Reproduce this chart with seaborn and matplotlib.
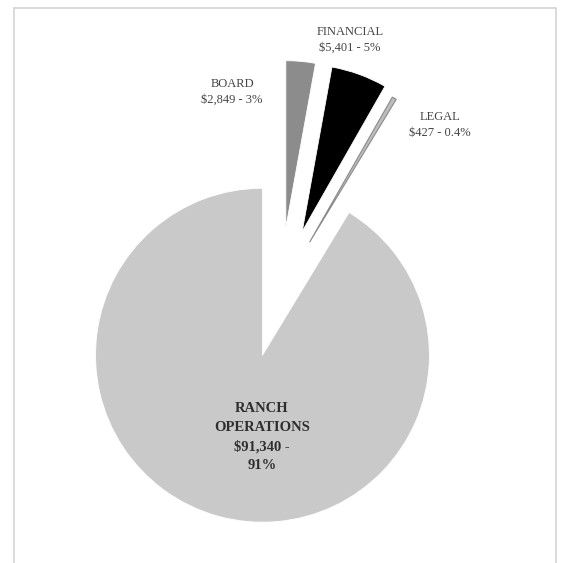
import matplotlib
matplotlib.use("Agg")
import matplotlib.pyplot as plt
import seaborn as sns
from matplotlib.patches import Rectangle

sns.set_theme(style="white")
plt.rcParams['font.family'] = ['Liberation Serif', 'DejaVu Serif']

# Expense categories (counter-clockwise from 12 o'clock)
categories = ["RANCH\nOPERATIONS", "LEGAL", "FINANCIAL", "BOARD"]
amounts = [91340, 427, 5401, 2849]
pct_labels = ["91%", "0.4%", "5%", "3%"]
colors = ["#c9c9c9", "#bdbdbd", "#000000", "#8c8c8c"]
explode = [0.39, 0.35, 0.39, 0.39]

fig = plt.figure(figsize=(5.62, 5.63), dpi=100)
ax = fig.add_axes([0, 0, 1, 1])

wedges, _ = ax.pie(amounts, colors=colors, explode=explode, startangle=90,
                   counterclock=True, radius=1.0,
                   wedgeprops=dict(linewidth=0.6, edgecolor="white"))
wedges[1].set_edgecolor("#8a8a8a")
wedges[1].set_linewidth(0.8)

ax.set_xlim(-1.677, 1.689)
ax.set_ylim(-1.620, 1.752)
ax.set_aspect("equal")
ax.axis("off")

# Label positions (data units)
label_pos = [(-0.108, -0.865), (0.958, 1.003), (0.419, 1.512), (-0.287, 1.201)]
for i, (cat, amt, pct) in enumerate(zip(categories, amounts, pct_labels)):
    x, y = label_pos[i]
    if i == 0:
        ax.text(x, y, f"{cat}\n${amt:,} -\n{pct}", ha="center", va="center",
                fontsize=10.5, fontweight="bold", color="#2e2e2e", linespacing=1.56)
    else:
        ax.text(x, y, f"{cat}\n${amt:,} - {pct}", ha="center", va="center",
                fontsize=9, color="#444444", linespacing=1.45)

# Light frame around the chart
fig.patches.append(Rectangle((14 / 562, -0.01), 542 / 562, (563 - 8) / 563 + 0.01,
                             transform=fig.transFigure, fill=False,
                             edgecolor="#d4d4d4", linewidth=1.2))

fig.savefig("out.png", dpi=100, facecolor="white")
